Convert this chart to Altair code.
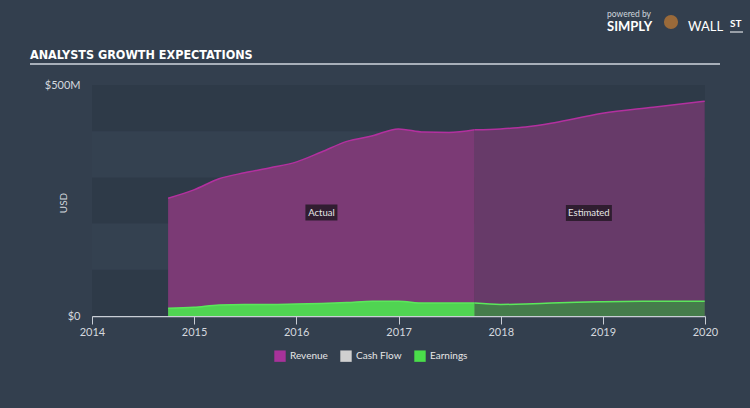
import altair as alt
import pandas as pd

# ---- data ----
act_dates = ["2014-09-30", "2014-12-31", "2015-03-31", "2015-06-30", "2015-09-30",
             "2015-12-31", "2016-03-31", "2016-06-30", "2016-09-30", "2016-12-31",
             "2017-03-31", "2017-06-30", "2017-09-30"]
act_revenue = [255, 273, 297, 310, 321, 333, 355, 378, 390, 405, 398, 397, 403]
act_earnings = [17, 19, 24, 25, 25, 26, 27, 29, 32, 32, 28, 28, 28]

est_dates = ["2017-09-30", "2017-12-31", "2018-03-31", "2018-06-30", "2018-09-30",
             "2018-12-31", "2019-06-30", "2019-12-31"]
est_revenue = [403, 405, 409, 417, 428, 439, 452, 465]
est_earnings = [28, 25, 26, 28, 30, 31, 32, 32]

band_lo = [0, 200, 400]
band_hi = [100, 300, 500]

series_names = ["Revenue", "Cash Flow", "Earnings"]
legend_colors = ["#a8329a", "#d0d0d0", "#4ade4a"]

label_texts = ["Actual", "Estimated"]
label_dates = ["2016-03-31", "2018-11-12"]
label_values = [224, 223]
label_halfwidths = [16, 23]

BG = "#333f4e"
FONT = "Lato, Noto Sans, sans-serif"

act = pd.DataFrame({"date": act_dates, "rev": act_revenue, "earn": act_earnings})
est = pd.DataFrame({"date": est_dates, "rev": est_revenue, "earn": est_earnings})
bands = pd.DataFrame({"start": ["2014-01-01"] * 3, "end": ["2020-01-01"] * 3,
                      "lo": band_lo, "hi": band_hi})
labels = pd.DataFrame({"text": label_texts, "date": label_dates, "v": label_values})
leg = pd.DataFrame({"series": series_names, "date": ["2014-01-01"] * 3, "v": [0] * 3})

xscale = alt.Scale(domain=["2014-01-01", "2020-01-01"])
yscale = alt.Scale(domain=[0, 500], nice=False)

xaxis = alt.Axis(format="%Y", tickCount={"interval": "year", "step": 1},
                 labelColor="#d4d8de", labelFont=FONT, labelFontSize=11,
                 domainColor="#c9ced6", tickColor="#c9ced6", tickSize=8,
                 domainWidth=1.5, labelPadding=2, grid=False, labelFlush=False,
                 title=None)
yaxis = alt.Axis(values=[0, 500], labelExpr="datum.value == 0 ? '$0' : '$500M'",
                 labelColor="#d4d8de", labelFont=FONT, labelFontSize=11,
                 domain=False, ticks=False, grid=False, labelPadding=12,
                 title=None)

band_layer = alt.Chart(bands).mark_rect(color="#2e3a48").encode(
    x=alt.X("start:T", scale=xscale, axis=xaxis), x2="end:T",
    y=alt.Y("lo:Q", scale=yscale, axis=yaxis), y2="hi:Q")

base_act = alt.Chart(act)
base_est = alt.Chart(est)

X = alt.X("date:T", scale=xscale)

rev_act = base_act.mark_area(interpolate="monotone", color="#7b3a75", opacity=1,
                             line={"color": "#b3309f", "strokeWidth": 1.5}).encode(
    x=X, y=alt.Y("rev:Q", scale=yscale))
rev_est = base_est.mark_area(interpolate="monotone", color="#673a69", opacity=1,
                             line={"color": "#b3309f", "strokeWidth": 1.5}).encode(
    x=X, y=alt.Y("rev:Q", scale=yscale))
earn_act = base_act.mark_area(interpolate="monotone", color="#50d452", opacity=1,
                              line={"color": "#5be85b", "strokeWidth": 1.5}).encode(
    x=X, y=alt.Y("earn:Q", scale=yscale))
earn_est = base_est.mark_area(interpolate="monotone", color="#457c4b", opacity=1,
                              line={"color": "#5be85b", "strokeWidth": 1.5}).encode(
    x=X, y=alt.Y("earn:Q", scale=yscale))

lab_layers = []
for txt, hw in zip(label_texts, label_halfwidths):
    lab_layers.append(
        alt.Chart(labels).transform_filter(alt.datum.text == txt).mark_rect(
            color="#2a1b2b", opacity=0.92, xOffset=-hw, x2Offset=hw,
            yOffset=-8, y2Offset=8).encode(
            x=X, x2="date:T", y=alt.Y("v:Q", scale=yscale), y2="v:Q"))
lab_text = alt.Chart(labels).mark_text(color="#e6e6e6", font=FONT, fontSize=9.5).encode(
    x=X, y=alt.Y("v:Q", scale=yscale), text="text:N")

legend_layer = alt.Chart(leg).mark_square(opacity=0).encode(
    x=X, y=alt.Y("v:Q", scale=yscale),
    color=alt.Color("series:N",
                    scale=alt.Scale(domain=series_names, range=legend_colors),
                    legend=alt.Legend(title=None, orient="none", direction="horizontal",
                                      legendX=182, legendY=265, symbolType="square",
                                      symbolSize=130, symbolOpacity=1,
                                      symbolStrokeWidth=0, labelColor="#e6e6e6",
                                      labelFont=FONT, labelFontSize=10,
                                      columnPadding=12, labelOffset=4)))

usd_text = alt.Chart(pd.DataFrame({"t": ["USD"]})).mark_text(
    angle=270, color="#d4d8de", font=FONT, fontSize=10).encode(
    text="t:N", x=alt.value(-28), y=alt.value(118))

title_text = alt.Chart(pd.DataFrame({"t": ["ANALYSTS GROWTH EXPECTATIONS"]})).mark_text(
    align="left", baseline="alphabetic", color="#ffffff",
    font="'Liberation Sans Narrow', 'DejaVu Sans Condensed', Roboto, sans-serif",
    fontWeight="bold", fontSize=12.5).encode(
    text="t:N", x=alt.value(-62), y=alt.value(-26))
title_rule = alt.Chart(pd.DataFrame({"a": [0]})).mark_rule(
    color="#d0d6de", strokeWidth=1.5).encode(
    x=alt.value(-62), x2=alt.value(628), y=alt.value(-21))

logo1 = alt.Chart(pd.DataFrame({"t": ["powered by"]})).mark_text(
    align="left", color="#cfd5dc", font=FONT, fontSize=8.5).encode(
    text="t:N", x=alt.value(515), y=alt.value(-71))
logo2 = alt.Chart(pd.DataFrame({"t": ["SIMPLY"]})).mark_text(
    align="left", color="#ffffff", font=FONT, fontWeight="bold", fontSize=13).encode(
    text="t:N", x=alt.value(515), y=alt.value(-58))
logo3 = alt.Chart(pd.DataFrame({"t": ["WALL"]})).mark_text(
    align="left", color="#ffffff", font=FONT, fontSize=13).encode(
    text="t:N", x=alt.value(596), y=alt.value(-58))
logo4 = alt.Chart(pd.DataFrame({"t": ["ST"]})).mark_text(
    align="left", color="#ffffff", font=FONT, fontWeight="bold", fontSize=10).encode(
    text="t:N", x=alt.value(638), y=alt.value(-61))
logo4u = alt.Chart(pd.DataFrame({"a": [0]})).mark_rule(
    color="#ffffff", strokeWidth=1).encode(
    x=alt.value(638), x2=alt.value(651), y=alt.value(-53))
logo_icon = alt.Chart(pd.DataFrame({"a": [0]})).mark_point(
    filled=True, color="#9a6a3a", size=200, shape="circle", opacity=1).encode(
    x=alt.value(579), y=alt.value(-63))

chart = alt.layer(
    band_layer, rev_act, rev_est, earn_act, earn_est, *lab_layers, lab_text,
    legend_layer, usd_text, title_text, title_rule, logo1, logo2, logo3, logo4,
    logo4u, logo_icon
).properties(
    width=613, height=231,
    autosize=alt.AutoSizeParams(type="none"),
    padding={"left": 92, "top": 85, "right": 45, "bottom": 92},
    background=BG
).configure_view(stroke=None, fill="#344150")

chart.save("out.html", embed_options={"renderer": "svg", "actions": False})
